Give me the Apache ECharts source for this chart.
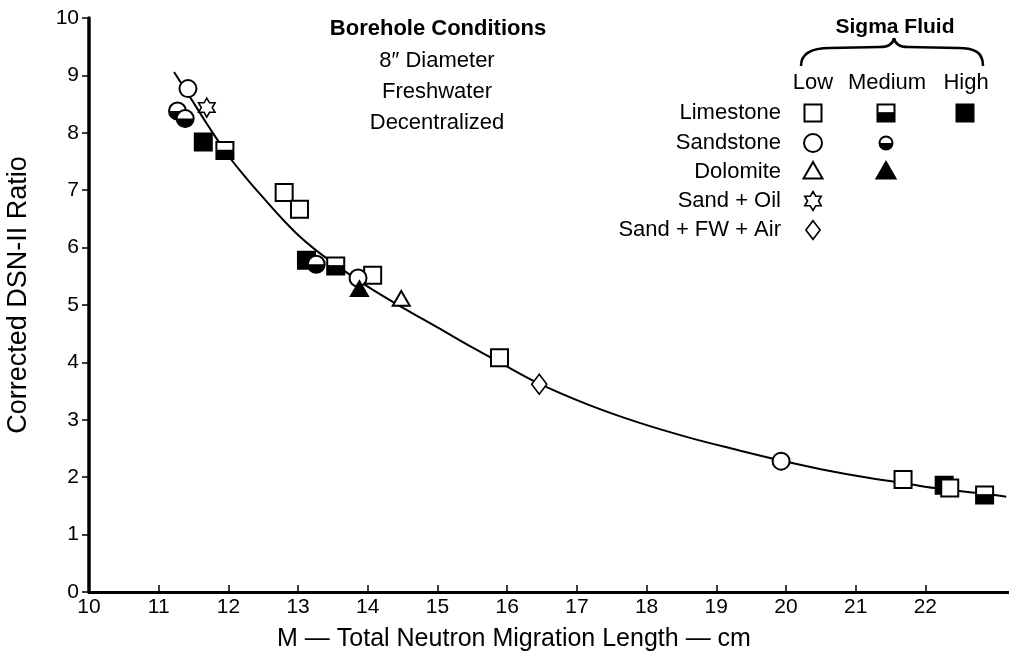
<!DOCTYPE html>
<html>
<head>
<meta charset="utf-8">
<script src="https://cdn.jsdelivr.net/npm/echarts@6/dist/echarts.min.js"></script>
<style>
html,body{margin:0;padding:0;background:#fff;}
#chart{width:1009px;height:665px;}
</style>
</head>
<body>
<div id="chart"></div>
<script>
// ---- Data ----
const xTickLabels = [10, 11, 12, 13, 14, 15, 16, 17, 18, 19, 20, 21, 22];
const yTickLabels = [0, 1, 2, 3, 4, 5, 6, 7, 8, 9, 10];

// Fitted curve (M, ratio)
const curvePoints = [
  [11.22, 9.06], [11.42, 8.68], [11.70, 8.14], [12.00, 7.60], [12.25, 7.22],
  [12.50, 6.87], [12.75, 6.53], [13.00, 6.22], [13.25, 5.96], [13.55, 5.69],
  [14.00, 5.32], [14.45, 4.99], [15.00, 4.61], [15.50, 4.26], [15.89, 4.00],
  [16.46, 3.63], [17.17, 3.26], [17.89, 2.95], [18.61, 2.69], [19.32, 2.47],
  [19.93, 2.29], [20.50, 2.14], [21.18, 1.99], [21.68, 1.90], [22.14, 1.81],
  [22.85, 1.71], [23.16, 1.66]
];

// Measured points (M, ratio)
const limestoneHigh   = [[11.64, 7.84], [13.12, 5.78], [22.27, 1.86]];
const limestoneLow    = [[12.80, 6.96], [13.02, 6.67], [14.07, 5.52], [15.89, 4.08], [21.68, 1.96], [22.35, 1.81]];
const limestoneMedium = [[11.95, 7.69], [13.54, 5.68], [22.85, 1.69]];
const sandstoneLow    = [[11.42, 8.77], [13.86, 5.47], [19.93, 2.28]];
const sandstoneMedium = [[11.27, 8.38], [11.38, 8.25], [13.26, 5.71]];
const dolomiteLow     = [[14.48, 5.09]];
const dolomiteMedium  = [[13.88, 5.26]];
const sandOil         = [[11.69, 8.44]];
const sandFwAir       = [[16.46, 3.62]];

// Legend text
const legendRows = ['Limestone', 'Sandstone', 'Dolomite', 'Sand + Oil', 'Sand + FW + Air'];
const legendCols = ['Low', 'Medium', 'High'];
const conditionLines = ['8\u2033 Diameter', 'Freshwater', 'Decentralized'];

// ---- Symbol drawing ----
const BLACK = '#000';
function shapes(kind, fill, x, y, s) {
  const lw = 2;
  const out = [];
  const base = fill === 'full' ? BLACK : '#fff';
  if (kind === 'square') {
    out.push({type: 'rect', shape: {x: x - s / 2, y: y - s / 2, width: s, height: s}, style: {fill: base, stroke: BLACK, lineWidth: lw}});
    if (fill === 'half') out.push({type: 'rect', shape: {x: x - s / 2, y: y - s * 0.05, width: s, height: s * 0.55}, style: {fill: BLACK}});
  } else if (kind === 'circle') {
    out.push({type: 'circle', shape: {cx: x, cy: y, r: s / 2}, style: {fill: base, stroke: BLACK, lineWidth: lw}});
    if (fill === 'half') out.push({type: 'sector', shape: {cx: x, cy: y, r: s / 2 + 0.5, r0: 0, startAngle: 0, endAngle: Math.PI, clockwise: true}, style: {fill: BLACK}});
  } else if (kind === 'triangle') {
    const h = s * 0.87;
    out.push({type: 'polygon', shape: {points: [[x, y - h * 0.6], [x + s / 2, y + h * 0.4], [x - s / 2, y + h * 0.4]]}, style: {fill: base, stroke: BLACK, lineWidth: lw}});
  } else if (kind === 'star') {
    const R = s / 2, r = R / Math.sqrt(3);
    const pts = [];
    for (let k = 0; k < 12; k++) {
      const a = -Math.PI / 2 + k * Math.PI / 6;
      const rr = k % 2 === 0 ? R : r;
      pts.push([x + rr * Math.cos(a), y + rr * Math.sin(a)]);
    }
    out.push({type: 'polygon', shape: {points: pts}, style: {fill: '#fff', stroke: BLACK, lineWidth: 1.6}});
  } else if (kind === 'diamond') {
    out.push({type: 'polygon', shape: {points: [[x, y - s * 0.55], [x + s * 0.42, y], [x, y + s * 0.55], [x - s * 0.42, y]]}, style: {fill: '#fff', stroke: BLACK, lineWidth: 1.6}});
  }
  return out;
}

function symbolSeries(name, data, kind, fill, size) {
  return {
    name: name,
    type: 'custom',
    data: data,
    z: 5,
    renderItem: function (params, api) {
      const p = api.coord([api.value(0), api.value(1)]);
      return {type: 'group', children: shapes(kind, fill, p[0], p[1], size)};
    }
  };
}

// ---- Legend / annotation graphics ----
const FONT = '"Liberation Sans", Arial, sans-serif';
const graphics = [];
graphics.push({type: 'text', style: {text: 'Borehole Conditions', x: 438, y: 29, textAlign: 'center', textVerticalAlign: 'middle', font: 'bold 22px ' + FONT, fill: BLACK}});
const condY = [61, 92, 123];
conditionLines.forEach(function (t, i) {
  graphics.push({type: 'text', style: {text: t, x: 437, y: condY[i], textAlign: 'center', textVerticalAlign: 'middle', font: '22px ' + FONT, fill: BLACK}});
});
graphics.push({type: 'text', style: {text: 'Sigma Fluid', x: 895, y: 27, textAlign: 'center', textVerticalAlign: 'middle', font: 'bold 21px ' + FONT, fill: BLACK}});
const braceStyle = {fill: 'none', stroke: BLACK, lineWidth: 2.5};
graphics.push({type: 'bezierCurve', shape: {x1: 801, y1: 66, cpx1: 801, cpy1: 53, cpx2: 812, cpy2: 48, x2: 830, y2: 48}, style: braceStyle});
graphics.push({type: 'line', shape: {x1: 830, y1: 48, x2: 880, y2: 47}, style: braceStyle});
graphics.push({type: 'bezierCurve', shape: {x1: 880, y1: 47, cpx1: 888, cpy1: 47, cpx2: 893, cpy2: 44, x2: 894, y2: 38}, style: braceStyle});
graphics.push({type: 'bezierCurve', shape: {x1: 894, y1: 38, cpx1: 895, cpy1: 44, cpx2: 900, cpy2: 47, x2: 908, y2: 47}, style: braceStyle});
graphics.push({type: 'line', shape: {x1: 908, y1: 47, x2: 958, y2: 48}, style: braceStyle});
graphics.push({type: 'bezierCurve', shape: {x1: 958, y1: 48, cpx1: 976, cpy1: 48, cpx2: 983, cpy2: 53, x2: 983, y2: 66}, style: braceStyle});
const colX = [813, 887, 966];
legendCols.forEach(function (t, i) {
  graphics.push({type: 'text', style: {text: t, x: colX[i], y: 83, textAlign: 'center', textVerticalAlign: 'middle', font: '22px ' + FONT, fill: BLACK}});
});
const rowY = [113, 143, 172, 201, 230];
legendRows.forEach(function (t, i) {
  graphics.push({type: 'text', style: {text: t, x: 781, y: rowY[i], textAlign: 'right', textVerticalAlign: 'middle', font: '22px ' + FONT, fill: BLACK}});
});
const symX = [813, 886, 965];
const legendSymbols = [
  [0, 0, 'square', 'none', 17], [0, 1, 'square', 'half', 17], [0, 2, 'square', 'full', 17],
  [1, 0, 'circle', 'none', 18], [1, 1, 'circle', 'half', 13],
  [2, 0, 'triangle', 'none', 19], [2, 1, 'triangle', 'full', 19],
  [3, 0, 'star', 'none', 19],
  [4, 0, 'diamond', 'none', 17]
];
legendSymbols.forEach(function (d) {
  graphics.push({type: 'group', children: shapes(d[2], d[3], symX[d[1]], rowY[d[0]], d[4])});
});

// ---- Chart ----
const chart = echarts.init(document.getElementById('chart'), null, {renderer: 'canvas'});
chart.setOption({
  backgroundColor: '#fff',
  animation: false,
  textStyle: {fontFamily: FONT},
  grid: {left: 89, top: 18, right: 0, bottom: 73, containLabel: false, outerBoundsMode: 'none'},
  xAxis: {
    type: 'value',
    min: 10, max: 23.2,
    interval: 1,
    name: 'M \u2014 Total Neutron Migration Length \u2014 cm',
    nameLocation: 'middle',
    nameGap: 35,
    nameTextStyle: {fontSize: 25, color: BLACK, fontFamily: FONT, padding: [0, 70, 0, 0]},
    axisLine: {show: true, lineStyle: {color: BLACK, width: 3}},
    axisTick: {show: true, inside: true, length: 7, lineStyle: {color: BLACK, width: 1.5}, customValues: xTickLabels.slice(1)},
    axisLabel: {color: BLACK, fontSize: 21, fontFamily: FONT, margin: 5, customValues: xTickLabels},
    splitLine: {show: false}
  },
  yAxis: {
    type: 'value',
    min: 0, max: 10, interval: 1,
    name: 'Corrected DSN-II Ratio',
    nameLocation: 'middle',
    nameGap: 57,
    nameTextStyle: {fontSize: 27, color: BLACK, fontFamily: FONT, padding: [0, 0, 0, 20]},
    axisLine: {show: true, lineStyle: {color: BLACK, width: 3.5}},
    axisTick: {show: true, inside: false, length: 7, lineStyle: {color: BLACK, width: 1.5}},
    axisLabel: {color: BLACK, fontSize: 21, fontFamily: FONT, margin: 10},
    splitLine: {show: false}
  },
  graphic: graphics,
  series: [
    {name: 'Curve', type: 'line', data: curvePoints, smooth: 0.4, showSymbol: false, symbol: 'none', z: 2,
     lineStyle: {color: BLACK, width: 2}, silent: true},
    symbolSeries('Limestone High', limestoneHigh, 'square', 'full', 17),
    symbolSeries('Limestone Low', limestoneLow, 'square', 'none', 17),
    symbolSeries('Limestone Medium', limestoneMedium, 'square', 'half', 17),
    symbolSeries('Sandstone Medium', sandstoneMedium, 'circle', 'half', 17),
    symbolSeries('Sandstone Low', sandstoneLow, 'circle', 'none', 17),
    symbolSeries('Dolomite Medium', dolomiteMedium, 'triangle', 'full', 17),
    symbolSeries('Dolomite Low', dolomiteLow, 'triangle', 'none', 17),
    symbolSeries('Sand + Oil', sandOil, 'star', 'none', 19),
    symbolSeries('Sand + FW + Air', sandFwAir, 'diamond', 'none', 18)
  ]
});
</script>
</body>
</html>
